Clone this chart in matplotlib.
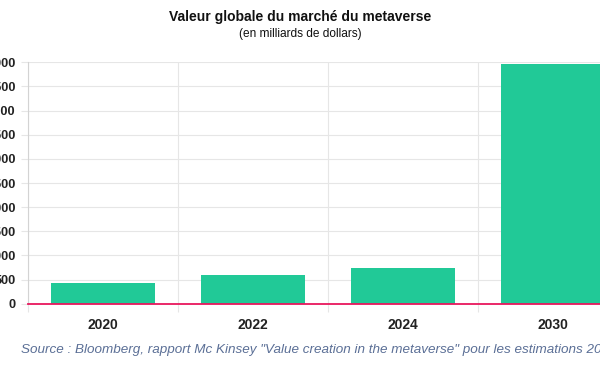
import matplotlib
matplotlib.use('Agg')
import matplotlib.pyplot as plt

plt.rcParams['font.family'] = ['Liberation Sans', 'DejaVu Sans']

# données (milliards de dollars)
years = ['2020', '2022', '2024', '2030']
values = [420, 600, 730, 4965]
yticks = [0, 500, 1000, 1500, 2000, 2500, 3000, 3500, 4000, 4500, 5000]

BAR = '#21c997'
ZERO = '#e8175d'
GRID = '#e6e6e6'
AXIS = '#d3d3d3'

fig = plt.figure(figsize=(6, 3.72), dpi=100)
ax = fig.add_axes([27.7/600, 68.3/372, 600/600, 241.4/372])

x = range(len(years))
ax.bar(x, values, width=0.695, color=BAR, zorder=2)
ax.axhline(0, color=ZERO, lw=1.3, zorder=3, clip_on=False)

ax.set_xlim(-0.5, 3.5)
ax.set_ylim(0, 5000)
ax.set_yticks(yticks)
ax.set_yticklabels([str(v) for v in yticks], fontsize=9.2, fontweight='bold', color='#222222')
ax.set_xticks(list(x))
ax.set_xticklabels(years, fontsize=10, fontweight='bold', color='#222222')
ax.set_xticks([-0.5, 0.5, 1.5, 2.5], minor=True)

ax.tick_params(axis='y', length=5.0, width=0.8, color=GRID, pad=3.6)
ax.tick_params(axis='x', which='major', length=0, pad=10)
ax.tick_params(axis='x', which='minor', length=6, width=0.8, color=GRID)

ax.grid(axis='y', color=GRID, lw=0.8, zorder=0)
ax.grid(axis='x', which='minor', color=GRID, lw=0.8, zorder=0)
ax.set_axisbelow(True)

for s in ['top', 'right', 'bottom']:
    ax.spines[s].set_visible(False)
ax.spines['left'].set_color(AXIS)
ax.spines['left'].set_linewidth(0.8)

fig.text(0.5, 1 - 17/372, 'Valeur globale du marché du metaverse', ha='center', va='center',
         fontsize=10, fontweight='bold', color='#111111')
fig.text(0.5, 1 - 34/372, '(en milliards de dollars)', ha='center', va='center',
         fontsize=8.6, color='#111111')
fig.text(21/600, 1 - 353/372,
         'Source : Bloomberg, rapport Mc Kinsey "Value creation in the metaverse" pour les estimations 2030',
         ha='left', va='baseline', fontsize=9.7, style='italic', color='#5b6f96')

fig.savefig('out.png', dpi=100)
